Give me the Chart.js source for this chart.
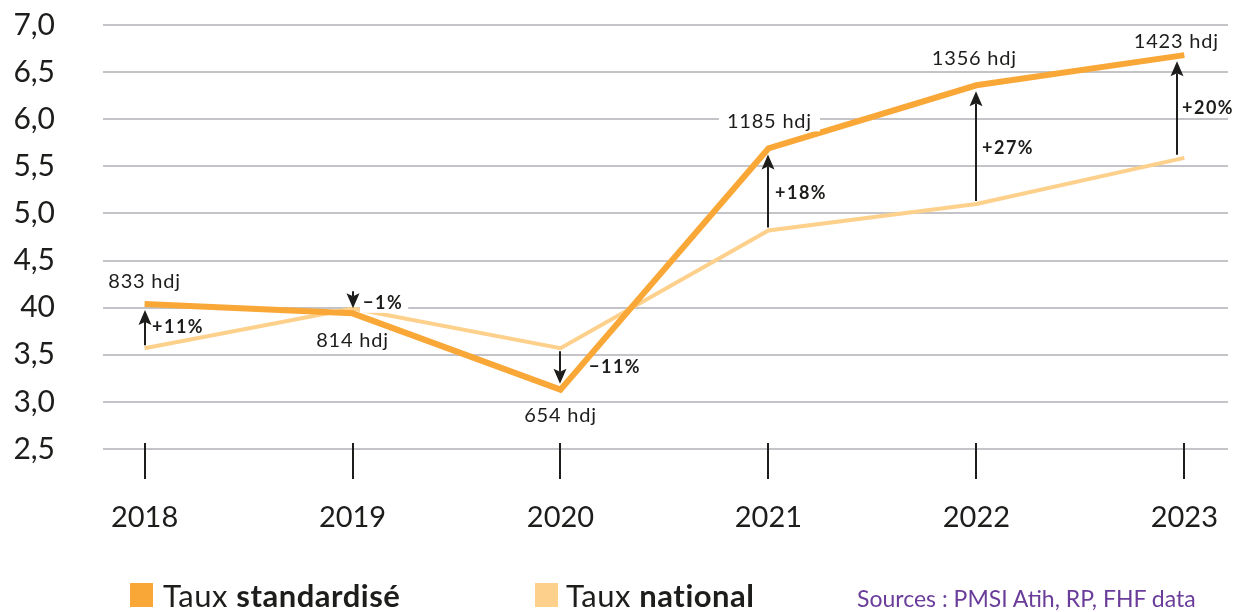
<!DOCTYPE html>
<html>
<head>
<meta charset="utf-8">
<script src="https://cdn.jsdelivr.net/npm/chart.js@4"></script>
<style>
  html, body { margin: 0; padding: 0; background: #fff; }
  #wrap { position: relative; width: 1251px; height: 612px; overflow: hidden; font-family: 'Lato', sans-serif; color: #1d1d1b; }
  #chart { position: absolute; left: 0; top: 0; }
  .sq { position: absolute; width: 23px; height: 24px; }
  .lg { position: absolute; font-size: 31px; line-height: 31px; letter-spacing: 0.5px; white-space: nowrap; }
  .lg b { font-weight: 700; }
  #src { position: absolute; left: 857px; top: 587px; font-size: 23px; line-height: 23px; color: #6a3d9a; white-space: nowrap; }
</style>
</head>
<body>
<div id="wrap">
  <canvas id="chart" width="1251" height="612"></canvas>
  <div class="sq" style="left:130px; top:583px; background:#f9a737"></div>
  <div class="lg" style="left:163px; top:580px">Taux <b>standardisé</b></div>
  <div class="sq" style="left:535px; top:583px; background:#fdd08c"></div>
  <div class="lg" style="left:566px; top:580px">Taux <b>national</b></div>
  <div id="src">Sources : PMSI Atih, RP, FHF data</div>
</div>
<script>
// ── Data ──────────────────────────────────────────
const years = [2018, 2019, 2020, 2021, 2022, 2023];
const tauxStandardise = [4.04, 3.94, 3.13, 5.69, 6.36, 6.68];
const tauxNational = [3.57, 3.99, 3.57, 4.82, 5.10, 5.59];
const hdjLabels = ['833 hdj', '814 hdj', '654 hdj', '1185 hdj', '1356 hdj', '1423 hdj'];
const ecartLabels = ['+11%', '−1%', '−11%', '+18%', '+27%', '+20%'];
const yTickLabels = ['2,5', '3,0', '3,5', '40', '4,5', '5,0', '5,5', '6,0', '6,5', '7,0'];

const INK = '#1d1d1b';

// placement tweaks for the annotations (pixels, relative to the point)
const annotLayout = [
  { hdjDx: 0,  hdjDy: -22, arrowDx: 0,  pctDx: 7,  pctDy: 0,  hdjBg: false, pctBg: false },
  { hdjDx: 0,  hdjDy: 27,  arrowDx: 0,  pctDx: 10, pctDy: 3,  hdjBg: false, pctBg: true, arrowFrom: -22 },
  { hdjDx: 0,  hdjDy: 26,  arrowDx: 0,  pctDx: 29, pctDy: 0,  hdjBg: false, pctBg: false },
  { hdjDx: 1,  hdjDy: -27, arrowDx: 0,  pctDx: 7,  pctDy: 2,  hdjBg: true,  pctBg: false },
  { hdjDx: -2, hdjDy: -27, arrowDx: 0,  pctDx: 6,  pctDy: 2,  hdjBg: false, pctBg: false },
  { hdjDx: -8, hdjDy: -14, arrowDx: -7, pctDx: 5,  pctDy: 0,  hdjBg: false, pctBg: false },
];

// ── Plugin: x tick marks, arrows and labels ───────
const annotPlugin = {
  id: 'annot',
  beforeDatasetsDraw(chart) {
    const { ctx, scales: { x, y } } = chart;
    const base = y.getPixelForValue(2.5);
    ctx.save();
    ctx.strokeStyle = INK;
    ctx.lineWidth = 2;
    years.forEach((yr) => {
      const px = Math.round(x.getPixelForValue(yr));
      ctx.beginPath();
      ctx.moveTo(px, base - 6);
      ctx.lineTo(px, base + 30);
      ctx.stroke();
    });
    ctx.restore();
  },
  afterDatasetsDraw(chart) {
    const { ctx, scales: { x, y } } = chart;
    ctx.save();
    years.forEach((yr, i) => {
      const L = annotLayout[i];
      const px = x.getPixelForValue(yr);
      const yStd = y.getPixelForValue(tauxStandardise[i]);
      const yNat = y.getPixelForValue(tauxNational[i]);
      const ax = Math.round(px + L.arrowDx);

      // arrow
      let start, tip;
      if (L.arrowFrom !== undefined) {
        start = yStd + L.arrowFrom;
        tip = yStd - 5;
      } else {
        const d = Math.sign(yStd - yNat);
        start = yNat + d * 3;
        tip = yStd - d * 6;
      }
      const dir = Math.sign(tip - start);
      const head = 15;
      ctx.strokeStyle = INK;
      ctx.fillStyle = INK;
      ctx.lineWidth = 2;
      ctx.beginPath();
      ctx.moveTo(ax, start);
      ctx.lineTo(ax, tip - dir * (head - 3));
      ctx.stroke();
      ctx.beginPath();
      ctx.moveTo(ax, tip);
      ctx.lineTo(ax - 6.5, tip - dir * head);
      ctx.lineTo(ax, tip - dir * (head - 3));
      ctx.lineTo(ax + 6.5, tip - dir * head);
      ctx.closePath();
      ctx.fill();

      // percentage label
      ctx.font = "700 18px 'Lato', sans-serif";
      ctx.letterSpacing = '1.5px';
      ctx.textAlign = 'left';
      ctx.textBaseline = 'middle';
      const pctY = (start + tip) / 2 + L.pctDy;
      const pctX = ax + L.pctDx;
      if (L.pctBg) {
        const w = ctx.measureText(ecartLabels[i]).width;
        ctx.fillStyle = '#fff';
        ctx.fillRect(pctX - 3, pctY - 10, w + 8, 20);
        ctx.fillStyle = INK;
      }
      ctx.fillText(ecartLabels[i], pctX, pctY);

      // hdj label
      ctx.font = "400 20px 'Lato', sans-serif";
      ctx.letterSpacing = '0.8px';
      ctx.textAlign = 'center';
      const hx = px + L.hdjDx;
      const hy = yStd + L.hdjDy;
      if (L.hdjBg) {
        const w = ctx.measureText(hdjLabels[i]).width;
        ctx.fillStyle = '#fff';
        ctx.fillRect(hx - w / 2 - 8, hy - 10, w + 16, 20);
        ctx.fillStyle = INK;
      }
      ctx.fillText(hdjLabels[i], hx, hy);
    });
    ctx.restore();
  },
};

// ── Chart ─────────────────────────────────────────
new Chart(document.getElementById('chart').getContext('2d'), {
  type: 'line',
  data: {
    datasets: [
      {
        label: 'Taux standardisé',
        data: years.map((yr, i) => ({ x: yr, y: tauxStandardise[i] })),
        borderColor: '#f9a737',
        borderWidth: 6,
        pointRadius: 0,
        tension: 0,
        borderJoinStyle: 'miter',
      },
      {
        label: 'Taux national',
        data: years.map((yr, i) => ({ x: yr, y: tauxNational[i] })),
        borderColor: '#fdd08c',
        borderWidth: 4,
        pointRadius: 0,
        tension: 0,
        borderJoinStyle: 'miter',
      },
    ],
  },
  options: {
    responsive: false,
    animation: false,
    devicePixelRatio: 1,
    layout: { padding: { top: 25, right: 23, left: 0, bottom: 0 } },
    plugins: { legend: { display: false }, tooltip: { enabled: false } },
    scales: {
      x: {
        type: 'linear',
        min: 2017.8,
        max: 2023.21,
        afterBuildTicks: (s) => { s.ticks = years.map((v) => ({ value: v })); },
        afterFit: (s) => {
          s.height = 612 - 449;
          s.paddingLeft = 0;
          s.paddingRight = 0;
        },
        grid: { display: false },
        border: { display: false },
        ticks: {
          padding: 43,
          color: INK,
          font: { family: "'Lato', sans-serif", size: 29 },
          maxRotation: 0,
          callback: (v) => String(v),
        },
      },
      y: {
        min: 2.5,
        max: 7.0,
        afterFit: (s) => {
          s.width = 103;
          s.paddingTop = 0;
          s.paddingBottom = 0;
        },
        grid: { color: '#c4c4c8', lineWidth: 2, drawTicks: false },
        border: { display: false },
        ticks: {
          stepSize: 0.5,
          padding: 48,
          color: INK,
          font: { family: "'Lato', sans-serif", size: 30 },
          callback: (v, i) => yTickLabels[i],
        },
      },
    },
  },
  plugins: [annotPlugin],
});
</script>
</body>
</html>
